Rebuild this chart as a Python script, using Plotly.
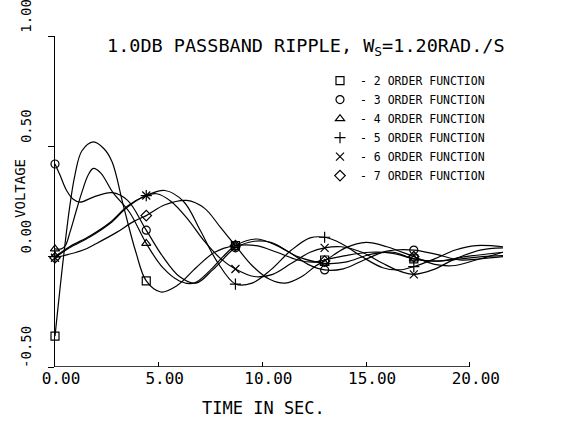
import plotly.graph_objects as go

# ---- data ----
MARK_T = [0, 4.4, 8.7, 13.0, 17.3]

T2 = [0, 0.4, 0.7, 0.96, 1.3, 1.85, 2.35, 2.75, 3.3, 3.9, 4.4, 5.1, 5.9, 6.8, 7.7, 8.7, 9.7, 10.7, 11.7, 12.5, 13.0, 14.0, 15.2, 16.3, 17.3, 18.4, 19.6, 20.6, 21.6]
V2 = [-0.36, -0.01, 0.22, 0.37, 0.48, 0.52, 0.49, 0.43, 0.23, 0.02, -0.11, -0.16, -0.13, -0.05, 0.02, 0.05, 0.05, 0.02, -0.015, -0.025, -0.015, 0.005, 0.02, 0.015, -0.01, -0.02, -0.01, 0.0, 0.005]

T3 = [0, 0.24, 0.56, 0.88, 1.2, 1.85, 2.75, 3.5, 4.4, 5.2, 6.0, 6.8, 7.6, 8.7, 9.6, 10.4, 11.3, 12.2, 13.0, 13.9, 14.9, 16.0, 17.3, 18.4, 19.5, 20.5, 21.6]
V3 = [0.42, 0.37, 0.30, 0.26, 0.247, 0.27, 0.29, 0.255, 0.12, 0.0, -0.09, -0.12, -0.06, 0.04, 0.07, 0.065, 0.02, -0.035, -0.06, -0.055, -0.015, 0.025, 0.03, 0.01, -0.015, -0.01, 0.0]

T4 = [0, 0.3, 0.5, 0.72, 1.0, 1.29, 1.6, 1.85, 2.2, 2.8, 3.6, 4.4, 5.2, 6.0, 6.7, 7.5, 8.1, 8.7, 9.7, 10.7, 11.7, 13.0, 14.0, 15.2, 16.3, 17.3, 18.5, 19.8, 21.6]
V4 = [0.035, 0.035, 0.05, 0.11, 0.2, 0.29, 0.37, 0.40, 0.38, 0.29, 0.20, 0.06, -0.05, -0.11, -0.12, -0.06, 0.0, 0.05, 0.08, 0.05, 0.0, -0.03, -0.025, 0.01, 0.02, -0.01, -0.02, 0.0, 0.02]

T5 = [0, 0.7, 1.7, 2.65, 3.5, 4.4, 5.3, 6.2, 7.0, 7.8, 8.7, 9.5, 10.4, 11.4, 12.3, 13.0, 13.8, 14.8, 15.8, 16.6, 17.3, 18.3, 19.3, 20.3, 21.6]
V5 = [0.0, 0.045, 0.095, 0.155, 0.23, 0.277, 0.30, 0.25, 0.12, -0.02, -0.124, -0.12, -0.06, 0.03, 0.085, 0.088, 0.06, 0.0, -0.05, -0.06, -0.045, -0.01, 0.03, 0.05, 0.045]

T6 = [0, 0.7, 1.7, 2.65, 3.5, 4.4, 4.9, 5.6, 6.4, 7.2, 8.0, 8.7, 9.6, 10.5, 11.4, 12.3, 13.0, 13.8, 14.8, 15.8, 16.6, 17.3, 18.2, 19.3, 20.5, 21.6]
V6 = [-0.005, 0.04, 0.09, 0.15, 0.225, 0.277, 0.285, 0.25, 0.17, 0.07, -0.01, -0.056, -0.09, -0.08, -0.03, 0.02, 0.04, 0.045, 0.02, -0.03, -0.065, -0.08, -0.06, -0.01, 0.03, 0.04]

T7 = [0, 1.36, 2.0, 2.97, 3.8, 4.4, 5.3, 6.35, 7.2, 8.0, 8.7, 9.5, 10.3, 11.1, 11.9, 12.6, 13.0, 14.0, 15.0, 16.0, 17.3, 18.3, 19.3, 20.3, 21.6]
V7 = [-0.005, 0.03, 0.06, 0.11, 0.16, 0.186, 0.235, 0.255, 0.22, 0.13, 0.05, -0.04, -0.10, -0.12, -0.09, -0.04, -0.02, 0.04, 0.065, 0.045, 0.0, -0.035, -0.04, -0.015, 0.02]

NAMES = ["- 2 ORDER FUNCTION", "- 3 ORDER FUNCTION", "- 4 ORDER FUNCTION",
         "- 5 ORDER FUNCTION", "- 6 ORDER FUNCTION", "- 7 ORDER FUNCTION"]
SYMBOLS = ["square-open", "circle-open", "triangle-up-open",
           "cross-thin-open", "x-thin-open", "diamond-open"]
SERIES = [(T2, V2), (T3, V3), (T4, V4), (T5, V5), (T6, V6), (T7, V7)]

X_TICKS = [0, 5, 10, 15, 20]
X_TICKTEXT = ["0.00", "5.00", "10.00", "15.00", "20.00"]
Y_TICKS = [-0.5, 0.0, 0.5, 1.0]
Y_TICKTEXT = ["-0.50", "0.00", "0.50", "1.00"]

FONT = "DejaVu Sans Mono"

fig = go.Figure()
for (t, v), name, sym in zip(SERIES, NAMES, SYMBOLS):
    fig.add_trace(go.Scatter(x=t, y=v, mode="lines", line=dict(color="black", width=1.2, shape="spline", smoothing=1.0),
                             showlegend=False, hoverinfo="skip", cliponaxis=False))
    mx = [tt for tt in t if tt in MARK_T]
    my = [vv for tt, vv in zip(t, v) if tt in MARK_T]
    fig.add_trace(go.Scatter(x=mx, y=my, mode="markers", name=name, cliponaxis=False,
                             marker=dict(symbol=sym, size=8, color="black", line=dict(color="black", width=1.2))))

fig.add_shape(type="line", x0=X_TICKS[0], x1=X_TICKS[-1], y0=Y_TICKS[0], y1=Y_TICKS[0],
              xref="x", yref="y", line=dict(color="black", width=1.3))

fig.update_layout(
    width=561, height=425,
    margin=dict(l=55, r=58, t=36, b=58, autoexpand=False),
    paper_bgcolor="white", plot_bgcolor="white",
    font=dict(family=FONT, color="black"),
    showlegend=True,
    legend=dict(x=0.5915, y=0.909, xanchor="left", yanchor="top", bgcolor="rgba(0,0,0,0)",
                font=dict(family=FONT, size=11.5, color="black"), itemwidth=30, tracegroupgap=0),
    xaxis=dict(range=[0, 21.6], tickvals=X_TICKS, ticktext=X_TICKTEXT, showgrid=False, zeroline=False,
               showline=False, ticks="inside", ticklen=5, tickcolor="black", tickwidth=1.2,
               tickfont=dict(family=FONT, size=16), ticklabelshift=6, automargin=False),
    yaxis=dict(range=[-0.5, 1.0], tickvals=Y_TICKS, ticktext=Y_TICKTEXT, showgrid=False, zeroline=False,
               showline=True, linecolor="black", linewidth=1.3, ticks="outside", ticklen=6,
               tickcolor="black", tickwidth=1.2, tickangle=-90, automargin=False,
               ticklabeloverflow="allow",
               tickfont=dict(family=FONT, size=14), ticklabelshift=-18, ticklabelstandoff=11),
    annotations=[
        dict(text="1.0DB PASSBAND RIPPLE, W<sub>S</sub>=1.20RAD./S", xref="paper", yref="paper",
             x=0.56, y=0.967, xanchor="center", yanchor="middle", showarrow=False,
             font=dict(family=FONT, size=18.5, color="black")),
        dict(text="TIME IN SEC.", xref="paper", yref="paper", x=0.4665, y=-0.124,
             xanchor="center", yanchor="middle", showarrow=False,
             font=dict(family=FONT, size=17, color="black")),
        dict(text="VOLTAGE", xref="paper", yref="paper", x=-0.078, y=0.538, textangle=-90,
             xanchor="center", yanchor="middle", showarrow=False,
             font=dict(family=FONT, size=14, color="black")),
    ],
)

# remove the browser's default 8px body margin so the figure sits at the page origin
fig.write_html("out.html", config={"displayModeBar": False},
               post_script="document.body.style.margin='0';")
